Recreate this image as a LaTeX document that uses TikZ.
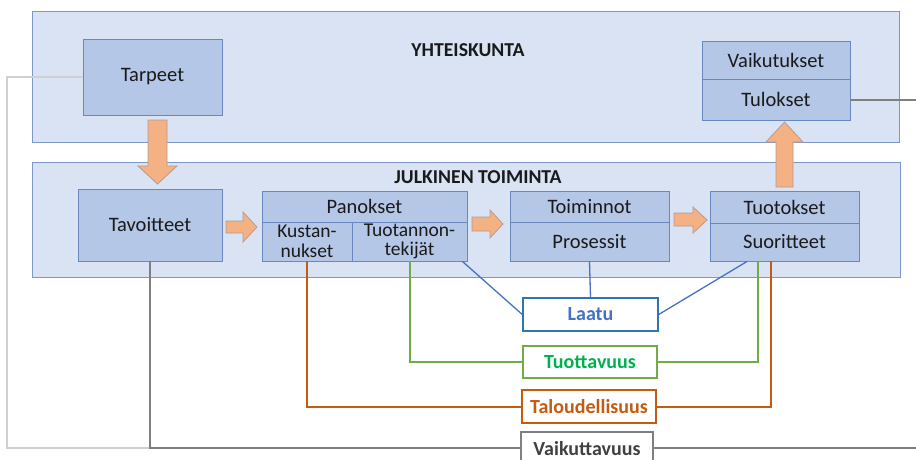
\documentclass[tikz,border=0pt]{standalone}
\usepackage{fontspec}
\setmainfont{Carlito}
\begin{document}
\begin{tikzpicture}[x=1pt,y=-1pt,
  panel/.style={draw=panelline,fill=panelfill,line width=0.9pt,inner sep=0pt},
  bx/.style={draw=boxline,fill=boxfill,line width=0.9pt,inner sep=0pt,align=center,text=txt,font=\fontsize{20.5}{17}\selectfont},
  twoline/.style={font=\fontsize{19.5}{19.5}\selectfont},
  lbl/.style={draw,fill=white,line width=1.4pt,inner sep=0pt,align=center,font=\fontsize{20}{22}\selectfont\bfseries},
  ttl/.style={font=\fontsize{19.7}{22}\selectfont\bfseries,text=txt},
  blockarrow/.style={fill=arrowfill,draw=arrowline,line width=0.8pt,line join=miter},
  bl/.style={draw=blueline,line width=1.3pt},
  gl/.style={draw=greenline,line width=2pt},
  ol/.style={draw=orangeline,line width=2pt},
  dl/.style={draw=darkgray,line width=2pt},
  ll/.style={draw=lightgray,line width=2pt}
]
\definecolor{panelfill}{HTML}{DAE3F3}
\definecolor{panelline}{HTML}{7C97C9}
\definecolor{boxfill}{HTML}{B4C7E7}
\definecolor{boxline}{HTML}{6A88C0}
\definecolor{txt}{HTML}{1A1A1A}
\definecolor{arrowfill}{HTML}{F4B183}
\definecolor{arrowline}{HTML}{B89A8E}
\definecolor{blueline}{HTML}{4472C4}
\definecolor{bluebox}{HTML}{2E75B6}
\definecolor{bluetext}{HTML}{4472C4}
\definecolor{greenline}{HTML}{70AD47}
\definecolor{greentext}{HTML}{00B050}
\definecolor{orangeline}{HTML}{C55A11}
\definecolor{orangetext}{HTML}{C55A11}
\definecolor{darkgray}{HTML}{7F7F7F}
\definecolor{lightgray}{HTML}{D0D0D0}
\definecolor{vtext}{HTML}{404040}

\useasboundingbox (0,0) rectangle (916,460);
\clip (0,0) rectangle (916,460);
\fill[white] (0,0) rectangle (916,460);

% panels
\node[panel,minimum width=867pt,minimum height=131pt] (yht) at (465.5,76.5) {};
\node[panel,minimum width=868pt,minimum height=115pt] (jul) at (466,219.5) {};
\node[ttl] (yhtt) at (468,50) {YHTEISKUNTA};
\node[ttl] (jult) at (478,177) {JULKINEN TOIMINTA};

% boxes
\node[bx,minimum width=139pt,minimum height=76pt] (tarpeet) at (152.5,77) {Tarpeet};
\node[bx,minimum width=148pt,minimum height=38pt] (vaik) at (776,60) {Vaikutukset};
\node[bx,minimum width=148pt,minimum height=41pt] (tulok) at (776,99.5) {Tulokset};
\node[bx,minimum width=144pt,minimum height=72pt] (tavoit) at (150,225) {Tavoitteet};
\node[bx,minimum width=205pt,minimum height=31pt] (panok) at (364.5,206.5) {Panokset};
\node[bx,twoline,minimum width=90pt,minimum height=39pt] (kust) at (307,241.5) {Kustan-\\nukset};
\node[bx,twoline,minimum width=115pt,minimum height=39pt] (tuot) at (409.5,241.5) {Tuotannon-\\tekijät};
\node[bx,minimum width=159pt,minimum height=31pt] (toim) at (589.5,206.5) {Toiminnot};
\node[bx,minimum width=159pt,minimum height=39pt] (pros) at (589.5,241.5) {Prosessit};
\node[bx,minimum width=149pt,minimum height=32pt] (tuotok) at (784.5,207) {Tuotokset};
\node[bx,minimum width=149pt,minimum height=38pt] (suor) at (784.5,242) {Suoritteet};

% block arrows
\draw[blockarrow] (148,120) -- (167,120) -- (167,166) -- (177,166) -- (157.5,184) -- (138,166) -- (148,166) -- cycle;
\draw[blockarrow] (776,187) -- (793,187) -- (793,142) -- (803,142) -- (784.5,122) -- (766,142) -- (776,142) -- cycle;
\draw[blockarrow] (226,221) -- (243,221) -- (243,212) -- (257,227) -- (243,242) -- (243,233) -- (226,233) -- cycle;
\draw[blockarrow] (472,217) -- (490,217) -- (490,210) -- (503,224) -- (490,238) -- (490,231) -- (472,231) -- cycle;
\draw[blockarrow] (674,213) -- (693,213) -- (693,207) -- (707,220) -- (693,233) -- (693,226) -- (674,226) -- cycle;

% label boxes
\node[lbl,draw=bluebox,text=bluetext,minimum width=135pt,minimum height=33pt] (laatu) at (590.5,314.5) {Laatu};
\node[lbl,draw=greenline,text=greentext,minimum width=134pt,minimum height=32pt] (tuottav) at (590,362) {Tuottavuus};
\node[lbl,draw=orangeline,text=orangetext,minimum width=134pt,minimum height=33pt] (talous) at (589,406.5) {Taloudellisuus};

% coordinates
\coordinate (lgtop) at (7,77);
\coordinate (lgbot) at (7,448);
\coordinate (rend1) at (916,99.5);
\coordinate (rend2) at (916,448);

% gray lines
\draw[ll] (tarpeet.west) -- (lgtop) -- (lgbot) -- (tavoit.south |- lgbot);
\draw[dl] (tavoit.south) -- (tavoit.south |- lgbot) -- (rend2);
\draw[dl] (tulok.east) -- (rend1);
\node[lbl,draw=darkgray,line width=1.2pt,text=vtext,minimum width=132pt,minimum height=34pt] (vaikutt) at (587,449) {Vaikuttavuus};

% blue lines
\draw[bl] ([xshift=-5pt]tuot.south east) -- (laatu.west);
\draw[bl] (pros.south) -- (laatu.north);
\draw[bl] ([xshift=-37.5pt]suor.south) -- (laatu.east);

% green lines
\draw[gl] (tuot.south) |- (tuottav.west);
\draw[gl] (tuottav.east) -| ([xshift=-26.5pt]suor.south);

% orange lines
\draw[ol] (kust.south) |- (talous.west);
\draw[ol] (talous.east) -| ([xshift=-13.5pt]suor.south);
\end{tikzpicture}
\end{document}
